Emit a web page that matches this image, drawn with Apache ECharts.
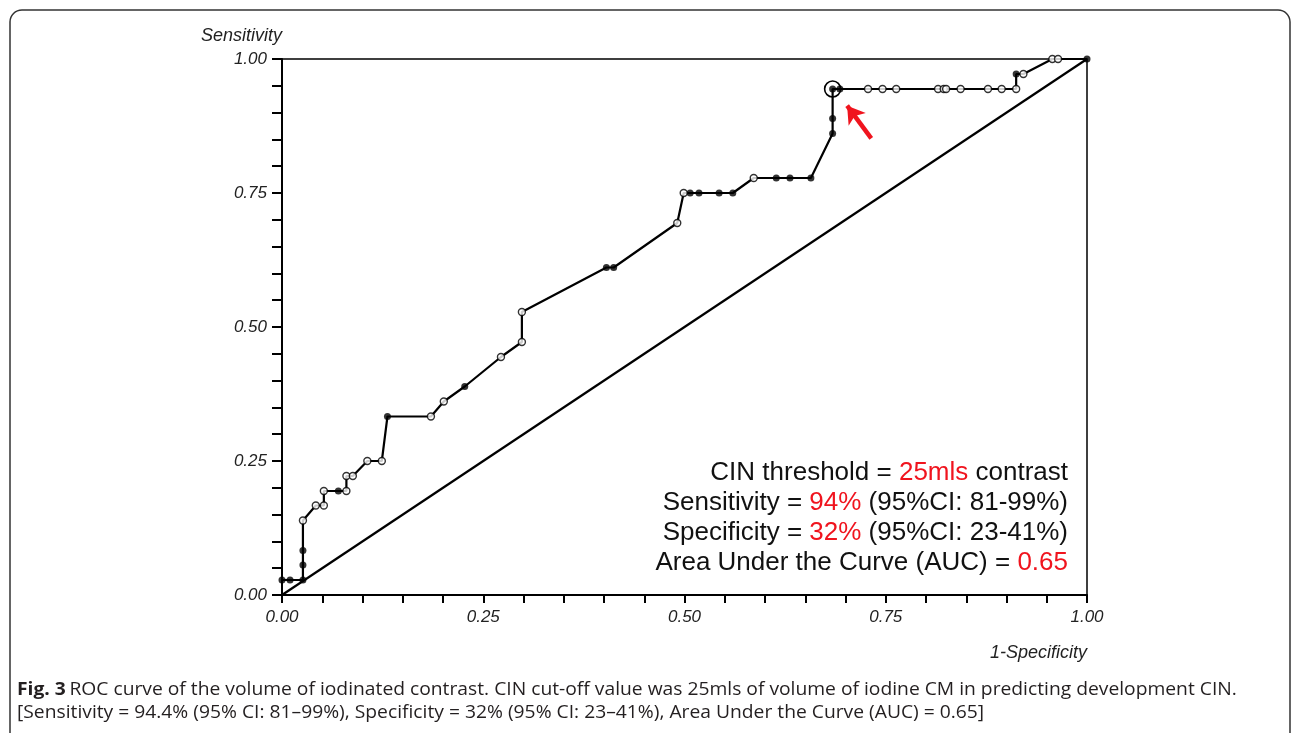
<!DOCTYPE html>
<html>
<head>
<meta charset="utf-8">
<script src="https://cdn.jsdelivr.net/npm/echarts@6/dist/echarts.min.js"></script>
<style>html,body{margin:0;padding:0;background:#fff;}#chart{width:1292px;height:733px;}</style>
</head>
<body>
<div id="chart"></div>
<script>
// 1-Specificity (false positive rate) of each ROC point
var fpr = [0.000,0.010,0.026,0.026,0.026,0.026,0.042,0.052,0.052,0.070,0.080,0.080,0.088,0.106,0.124,0.131,0.185,0.201,0.227,0.272,0.298,0.298,0.403,0.412,0.491,0.499,0.507,0.518,0.543,0.560,0.586,0.614,0.631,0.657,0.684,0.684,0.684,0.693,0.728,0.746,0.763,0.815,0.822,0.825,0.843,0.877,0.894,0.912,0.912,0.921,0.957,0.964,1.000];
// Sensitivity of each ROC point
var tpr = [0.028,0.028,0.028,0.056,0.083,0.139,0.167,0.167,0.194,0.194,0.194,0.222,0.222,0.250,0.250,0.333,0.333,0.361,0.389,0.444,0.472,0.528,0.611,0.611,0.694,0.750,0.750,0.750,0.750,0.750,0.778,0.778,0.778,0.778,0.861,0.889,0.944,0.944,0.944,0.944,0.944,0.944,0.944,0.944,0.944,0.944,0.944,0.944,0.972,0.972,1.000,1.000,1.000];
// marker style: 1 = filled dot, 0 = open circle
var filled = [1,1,1,1,1,0,0,0,0,1,0,0,0,0,0,1,0,0,1,0,0,0,1,1,0,0,1,1,1,1,0,1,1,1,1,1,1,1,0,0,0,0,0,0,0,0,0,0,1,0,0,0,1];
// reference diagonal
var diagX = [0, 1];
var diagY = [0, 1];
// optimal cut-off point and arrow
var cutoff = [0.684, 0.944];
var arrowFrom = [0.732, 0.852];
var arrowTo = [0.702, 0.913];
var tickLabels = ['0.00', '0.25', '0.50', '0.75', '1.00'];

var RED = '#f0141e';
var curve = fpr.map(function (x, i) { return [x, tpr[i]]; });
var openPts = [], fillPts = [];
curve.forEach(function (p, i) { (filled[i] ? fillPts : openPts).push(p); });
var diag = diagX.map(function (x, i) { return [x, diagY[i]]; });

function fmt(v) {
  var s = v.toFixed(2);
  return tickLabels.indexOf(s) >= 0 ? s : '';
}

var chart = echarts.init(document.getElementById('chart'), null, { renderer: 'canvas' });
var labelFont = { fontFamily: 'Liberation Sans, Arial, sans-serif', fontStyle: 'italic', fontSize: 17, color: '#222' };
var nameFont = { fontFamily: 'Liberation Sans, Arial, sans-serif', fontStyle: 'italic', fontSize: 18, color: '#222' };

chart.setOption({
  backgroundColor: '#fff',
  animation: false,
  grid: { left: 282, right: 205, top: 59, bottom: 138, show: true, borderColor: '#000', borderWidth: 1.5, backgroundColor: 'transparent' },
  xAxis: {
    type: 'value', min: 0, max: 1, interval: 0.25,
    name: '1-Specificity', nameLocation: 'end', nameGap: 0,
    nameTextStyle: Object.assign({}, nameFont, { align: 'right', verticalAlign: 'top', padding: [49, 0, 0, 0] }),
    axisLine: { show: true, lineStyle: { color: '#000', width: 2 } },
    axisTick: { show: true, length: 8, lineStyle: { color: '#000', width: 2 } },
    minorTick: { show: true, splitNumber: 5, length: 8, lineStyle: { color: '#000', width: 2 } },
    splitLine: { show: false },
    axisLabel: Object.assign({}, labelFont, { margin: 14, formatter: fmt })
  },
  yAxis: {
    type: 'value', min: 0, max: 1, interval: 0.25,
    name: 'Sensitivity', nameLocation: 'end', nameGap: 14,
    nameTextStyle: Object.assign({}, nameFont, { align: 'right' }),
    axisLine: { show: true, lineStyle: { color: '#000', width: 2 } },
    axisTick: { show: true, length: 10, lineStyle: { color: '#000', width: 2 } },
    minorTick: { show: true, splitNumber: 5, length: 10, lineStyle: { color: '#000', width: 2 } },
    splitLine: { show: false },
    axisLabel: Object.assign({}, labelFont, { margin: 15, formatter: fmt })
  },
  series: [
    { type: 'line', data: diag, symbol: 'none', lineStyle: { color: '#000', width: 2.2 }, silent: true, z: 2 },
    {
      type: 'line', data: curve, symbol: 'none', lineStyle: { color: '#000', width: 2.2 }, z: 3,
      markPoint: {
        symbol: 'circle', symbolSize: 16, silent: true,
        itemStyle: { color: 'rgba(0,0,0,0)', borderColor: '#000', borderWidth: 1.6 },
        label: { show: false },
        data: [{ coord: cutoff }]
      },
      markLine: {
        silent: true, symbol: ['none', 'arrow'], symbolSize: [16, 17],
        lineStyle: { color: RED, width: 4.5, type: 'solid' },
        label: { show: false },
        data: [[{ coord: arrowFrom }, { coord: arrowTo }]]
      }
    },
    { type: 'scatter', data: fillPts, symbol: 'circle', symbolSize: 7, itemStyle: { color: '#000' }, z: 4 },
    { type: 'scatter', data: openPts, symbol: 'circle', symbolSize: 7, itemStyle: { color: '#fff', borderColor: '#000', borderWidth: 1.4 }, z: 4 }
  ],
  graphic: [
    { type: 'rect', shape: { x: 10, y: 10, width: 1280, height: 780, r: 12 }, style: { fill: 'none', stroke: '#333', lineWidth: 1.5 }, silent: true, z: 0 },
    {
      type: 'text', x: 1068, y: 458, silent: true,
      style: {
        text: '{k|CIN threshold = }{r|25mls}{k| contrast}\n{k|Sensitivity = }{r|94%}{k| (95%CI: 81-99%)}\n{k|Specificity = }{r|32%}{k| (95%CI: 23-41%)}\n{k|Area Under the Curve (AUC) = }{r|0.65}',
        align: 'right', verticalAlign: 'top',
        rich: {
          k: { fontSize: 26, fontFamily: 'Liberation Sans, Arial, sans-serif', fill: '#111', lineHeight: 30 },
          r: { fontSize: 26, fontFamily: 'Liberation Sans, Arial, sans-serif', fill: RED, lineHeight: 30 }
        }
      }
    },
    {
      type: 'text', x: 17, y: 678, scaleX: 1.07, silent: true,
      style: {
        text: '{b|Fig. 3} {n|ROC curve of the volume of iodinated contrast. CIN cut-off value was 25mls of volume of iodine CM in predicting development CIN.}\n{n|[Sensitivity = 94.4% (95% CI: 81–99%), Specificity = 32% (95% CI: 23–41%), Area Under the Curve (AUC) = 0.65]}',
        align: 'left', verticalAlign: 'top',
        rich: {
          b: { fontSize: 18, fontWeight: 'bold', fontFamily: 'Open Sans, sans-serif', fill: '#231f20', lineHeight: 23 },
          n: { fontSize: 18, fontFamily: 'Open Sans, sans-serif', fill: '#231f20', lineHeight: 23 }
        }
      }
    }
  ]
});
</script>
</body>
</html>
